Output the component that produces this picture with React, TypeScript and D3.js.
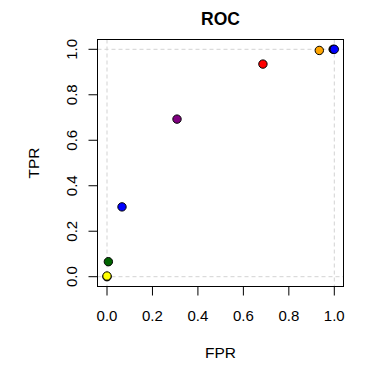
import React from "react";
import * as d3 from "d3";

const fpr = [0.0, 0.0, 0.006, 0.066, 0.308, 0.686, 0.934, 0.995, 1.0];
const tpr = [0.0, 0.003, 0.066, 0.307, 0.693, 0.935, 0.995, 1.0, 1.0];
const colors = ["black", "yellow", "darkgreen", "blue", "purple", "red", "orange", "black", "blue"];
const ticks = [0, 0.2, 0.4, 0.6, 0.8, 1.0];
const tickLabels = ["0.0", "0.2", "0.4", "0.6", "0.8", "1.0"];

export default function App() {
  const W = 384, H = 384;
  const left = 97.5, right = 343.5, top = 39.5, bottom = 286.5;
  const x = d3.scaleLinear().domain([0, 1]).range([107, 334.3]);
  const y = d3.scaleLinear().domain([0, 1]).range([276.7, 49.3]);
  const font = "Liberation Sans, Arial, sans-serif";
  return (
    <svg width={W} height={H} style={{ position: "absolute", left: 0, top: 0, background: "white" }}>
      <text x={(left + right) / 2} y={25} textAnchor="middle" fontFamily={font} fontWeight="bold" fontSize={17.5}>ROC</text>
      {[0, 1].map((v) => (
        <g key={"g" + v}>
          <line x1={x(v)} x2={x(v)} y1={top} y2={bottom} stroke="#d3d3d3" strokeDasharray="4,3" />
          <line x1={left} x2={right} y1={y(v)} y2={y(v)} stroke="#d3d3d3" strokeDasharray="4,3" />
        </g>
      ))}
      <rect x={left} y={top} width={right - left} height={bottom - top} fill="none" stroke="black" />
      {ticks.map((t, i) => (
        <g key={"x" + i}>
          <line x1={x(t)} x2={x(t)} y1={bottom} y2={bottom + 9} stroke="black" />
          <text x={x(t)} y={320.5} textAnchor="middle" fontFamily={font} fontSize={15}>{tickLabels[i]}</text>
        </g>
      ))}
      <line x1={x(0)} x2={x(1)} y1={bottom} y2={bottom} stroke="black" />
      {ticks.map((t, i) => (
        <g key={"y" + i}>
          <line x1={left - 9} x2={left} y1={y(t)} y2={y(t)} stroke="black" />
          <text transform={`translate(77,${y(t)}) rotate(-90)`} textAnchor="middle" fontFamily={font} fontSize={15}>{tickLabels[i]}</text>
        </g>
      ))}
      <line x1={left} x2={left} y1={y(0)} y2={y(1)} stroke="black" />
      <text x={(left + right) / 2} y={357.5} textAnchor="middle" fontFamily={font} fontSize={15.5}>FPR</text>
      <text transform={`translate(38.5,${(top + bottom) / 2}) rotate(-90)`} textAnchor="middle" fontFamily={font} fontSize={15.5}>TPR</text>
      {fpr.map((f, i) => (
        <circle key={"p" + i} cx={x(f)} cy={y(tpr[i])} r={4.2} fill={colors[i]} stroke="black" strokeWidth={1} />
      ))}
    </svg>
  );
}
